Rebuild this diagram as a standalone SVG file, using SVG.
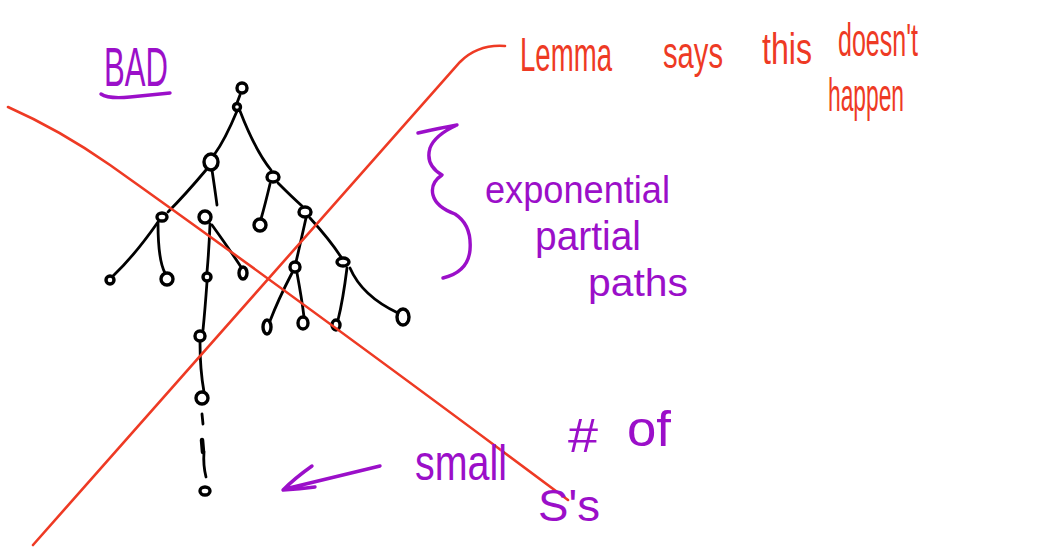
<svg xmlns="http://www.w3.org/2000/svg" width="1039" height="547" viewBox="0 0 1039 547">
<style>
.edge{fill:none;stroke:#000;stroke-width:2.8;stroke-linecap:round}
.node{fill:none;stroke:#000;stroke-width:3.4}
.red{fill:none;stroke:#ee3a24;stroke-width:2.6;stroke-linecap:round}
.pur{fill:none;stroke:#9b0fc9;stroke-width:3.4;stroke-linecap:round;stroke-linejoin:round}
.rt{fill:#ee3a24;font-family:"Liberation Sans",Arial,sans-serif;font-size:34px}
.pt{fill:#9b0fc9;font-family:"Liberation Sans",Arial,sans-serif;font-size:40px}
</style>
<rect width="1039" height="547" fill="#fff"/>
<g id="connectors">
<path class="edge" d="M240,95 L237,103"/>
<path class="edge" d="M237,111 Q225,140 214,155"/>
<path class="edge" d="M240,111 Q255,150 271,170"/>
<path class="edge" d="M206,170 Q185,195 168,212"/>
<path class="edge" d="M212,170 Q215,190 217,205"/>
<path class="edge" d="M270,184 Q265,205 261,219"/>
<path class="edge" d="M278,183 Q292,197 302,206"/>
<path class="edge" d="M158,222 Q135,255 113,276"/>
<path class="edge" d="M158,223 Q158,260 165,273"/>
<path class="edge" d="M210,224 Q209,250 207,272"/>
<path class="edge" d="M212,225 Q230,250 241,267"/>
<path class="edge" d="M207,282 Q205,310 203,330"/>
<path class="edge" d="M306,218 Q300,245 296,262"/>
<path class="edge" d="M310,218 Q330,240 341,257"/>
<path class="edge" d="M292,273 Q278,300 270,321"/>
<path class="edge" d="M297,273 Q302,300 304,317"/>
<path class="edge" d="M347,268 Q343,300 338,320"/>
<path class="edge" d="M350,268 Q362,296 398,313"/>
<path class="edge" d="M200,342 Q200,370 204,392"/>
<path class="edge" d="M202,414 L203,424"/>
<path class="edge" d="M202,440 L203,452" style="stroke-width:4.5"/>
<path class="edge" d="M204,452 Q203,465 206,477"/>
</g>
<g id="n0"><ellipse class="node" cx="242" cy="88" rx="5" ry="5"/></g>
<g id="n1"><ellipse class="node" cx="237" cy="107" rx="3.5" ry="3.5"/></g>
<g id="nA"><ellipse class="node" cx="211" cy="162" rx="7" ry="8" stroke-width="4.5"/></g>
<g id="nB"><ellipse class="node" cx="273" cy="177" rx="6" ry="5"/></g>
<g id="nC"><ellipse class="node" cx="162" cy="217" rx="5" ry="4"/></g>
<g id="nD"><ellipse class="node" cx="205" cy="217" rx="6" ry="6"/></g>
<g id="nB1"><ellipse class="node" cx="260" cy="225" rx="6" ry="6"/></g>
<g id="nE"><ellipse class="node" cx="305" cy="212" rx="6" ry="5"/></g>
<g id="nC1"><ellipse class="node" cx="110" cy="280" rx="4" ry="4"/></g>
<g id="nC2"><ellipse class="node" cx="167" cy="279" rx="6" ry="6"/></g>
<g id="nD1"><ellipse class="node" cx="207" cy="277" rx="4" ry="4"/></g>
<g id="nD2"><ellipse class="node" cx="243" cy="273" rx="4" ry="6" stroke-width="4.5"/></g>
<g id="nE1"><ellipse class="node" cx="295" cy="267" rx="5" ry="5"/></g>
<g id="nE2"><ellipse class="node" cx="343" cy="262" rx="6" ry="4"/></g>
<g id="nD1a"><ellipse class="node" cx="200" cy="336" rx="5" ry="5"/></g>
<g id="nE1a"><ellipse class="node" cx="267" cy="327" rx="4" ry="7" stroke-width="4.5"/></g>
<g id="nE1b"><ellipse class="node" cx="303" cy="323" rx="5" ry="6"/></g>
<g id="nE2a"><ellipse class="node" cx="336" cy="325" rx="4" ry="5" stroke-width="4.5"/></g>
<g id="nE2b"><ellipse class="node" cx="403" cy="317" rx="6" ry="8"/></g>
<g id="chain1"><ellipse class="node" cx="202" cy="398" rx="6" ry="6"/></g>
<g id="chain2"><ellipse class="node" cx="205" cy="491" rx="5" ry="4"/></g>
<g id="cross">
<path class="red" d="M8,107 Q60,130 110,165 Q300,300 568,500"/>
<path class="red" d="M33,545 L460,62 Q478,44 505,46"/>
</g>
<g id="bad">
<text class="pt" transform="translate(104,86) scale(1,1.4)" textLength="64" lengthAdjust="spacingAndGlyphs">BAD</text>
<path class="pur" d="M101,94 Q108,99 130,97 L170,93"/>
</g>
<g id="brace"><path class="pur" d="M418,133 Q440,128 457,125 Q435,135 430,148 Q425,165 442,175 Q430,183 433,195 Q436,207 455,214 Q472,225 470,250 Q468,272 443,278"/></g>
<g id="label-exp">
<text class="pt" x="485" y="203" style="font-size:38px" textLength="185" lengthAdjust="spacingAndGlyphs">exponential</text>
<text class="pt" x="535" y="250" style="font-size:40px" textLength="106" lengthAdjust="spacingAndGlyphs">partial</text>
<text class="pt" x="588" y="296" style="font-size:38px" textLength="100" lengthAdjust="spacingAndGlyphs">paths</text>
</g>
<g id="arrow"><path class="pur" d="M380,466 L285,489 M312,466 Q295,478 283,490 Q300,489 315,487"/></g>
<g id="label-small">
<text class="pt" transform="translate(415,480) scale(1,1.25)" textLength="92" lengthAdjust="spacingAndGlyphs">small</text>
<text class="pt" transform="translate(568,452) scale(1,1.2)" textLength="30" lengthAdjust="spacingAndGlyphs">#</text>
<text class="pt" transform="translate(627,446) scale(1,1.25)" textLength="44" lengthAdjust="spacingAndGlyphs">of</text>
<text class="pt" transform="translate(538,521) scale(1,1.1)" textLength="62" lengthAdjust="spacingAndGlyphs">S's</text>
</g>
<g id="label-lemma">
<text class="rt" transform="translate(520,71) scale(1,1.4)" textLength="92" lengthAdjust="spacingAndGlyphs">Lemma</text>
<text class="rt" transform="translate(663,68) scale(1,1.3)" textLength="60" lengthAdjust="spacingAndGlyphs">says</text>
<text class="rt" transform="translate(762,64) scale(1,1.3)" textLength="50" lengthAdjust="spacingAndGlyphs">this</text>
<text class="rt" transform="translate(838,56) scale(1,1.35)" textLength="80" lengthAdjust="spacingAndGlyphs">doesn't</text>
<text class="rt" transform="translate(828,111) scale(1,1.35)" textLength="76" lengthAdjust="spacingAndGlyphs">happen</text>
</g>
</svg>
